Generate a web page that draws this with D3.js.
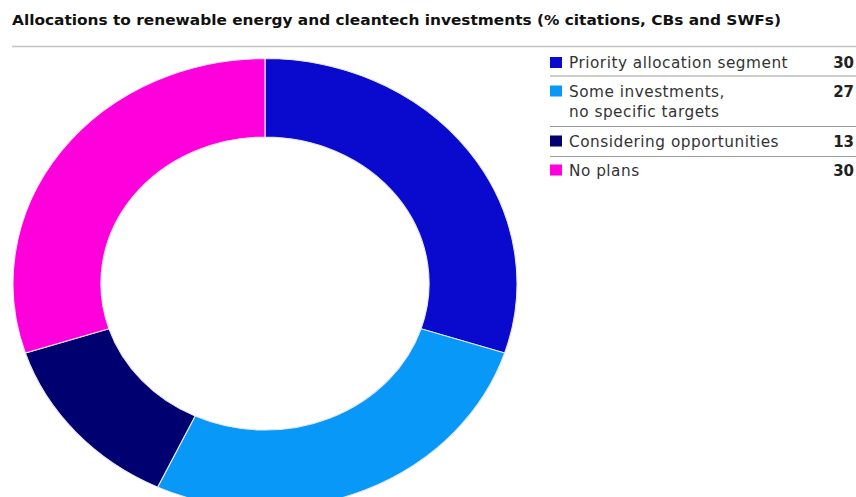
<!DOCTYPE html>
<html>
<head>
<meta charset="utf-8">
<script src="https://cdn.jsdelivr.net/npm/d3@7"></script>
<style>
  html, body { margin: 0; padding: 0; background: #fff; }
  svg { display: block; font-family: "DejaVu Sans", sans-serif; }
</style>
</head>
<body>
<svg id="chart" width="856" height="497"></svg>
<script>
// Allocation categories and their shares (% citations)
const categories = [
  ["Priority allocation segment"],
  ["Some investments,", "no specific targets"],
  ["Considering opportunities"],
  ["No plans"]
];
const values = [30, 27, 13, 30];
const colors = ["#0a0acf", "#0898f8", "#000070", "#ff00dc"];
const title = "Allocations to renewable energy and cleantech investments (% citations, CBs and SWFs)";

const svg = d3.select("#chart");

// Title and rule beneath it
svg.append("text")
  .attr("x", 12).attr("y", 25)
  .attr("font-size", 13.5).attr("font-weight", 700)
  .attr("fill", "#111")
  .attr("textLength", 769).attr("lengthAdjust", "spacingAndGlyphs")
  .text(title);
svg.append("line")
  .attr("x1", 12).attr("x2", 856).attr("y1", 46.5).attr("y2", 46.5)
  .attr("stroke", "#c4c4c4").attr("stroke-width", 1.5);

// Donut, slightly stretched horizontally
const data = categories.map((c, i) => ({ label: c, value: values[i], color: colors[i] }));
const pie = d3.pie().value(d => d.value).sort(null);
const outerR = 225, innerR = 146.5;
const arc = d3.arc().innerRadius(innerR).outerRadius(outerR);

const donut = svg.append("g")
  .attr("transform", "translate(265,283.5) scale(1.12,1)");
donut.selectAll("path")
  .data(pie(data))
  .join("path")
  .attr("d", arc)
  .attr("fill", d => d.data.color)
  .attr("stroke", "#e6e6ee")
  .attr("stroke-width", 1);

// Legend table: first-line baseline of each row
const legendX = 550, valueX = 854;
const baselines = [68, 96.5, 146.5, 175.5];
const lineH = 20;
const legend = svg.append("g");
const rows = legend.selectAll("g.row")
  .data(data)
  .join("g")
  .attr("class", "row")
  .attr("transform", (d, i) => `translate(0,${baselines[i]})`);

rows.append("rect")
  .attr("x", legendX).attr("y", -11)
  .attr("width", 12).attr("height", 11)
  .attr("fill", d => d.color);

rows.append("text")
  .attr("x", 569).attr("y", 0)
  .attr("font-size", 15.3).attr("letter-spacing", 0.5).attr("fill", "#333")
  .selectAll("tspan")
  .data(d => d.label)
  .join("tspan")
  .attr("x", 569)
  .attr("dy", (d, i) => i === 0 ? 0 : lineH)
  .text(d => d);

rows.append("text")
  .attr("x", valueX).attr("y", 0)
  .attr("text-anchor", "end")
  .attr("font-size", 15).attr("font-weight", 700).attr("fill", "#222")
  .text(d => d.value);

// Separators between legend rows
const sepY = [76, 126.5, 156.5];
legend.selectAll("line.sep")
  .data(sepY)
  .join("line")
  .attr("class", "sep")
  .attr("x1", legendX).attr("x2", 856)
  .attr("y1", d => d).attr("y2", d => d)
  .attr("stroke", "#9a9a9a").attr("stroke-width", 1);
</script>
</body>
</html>
